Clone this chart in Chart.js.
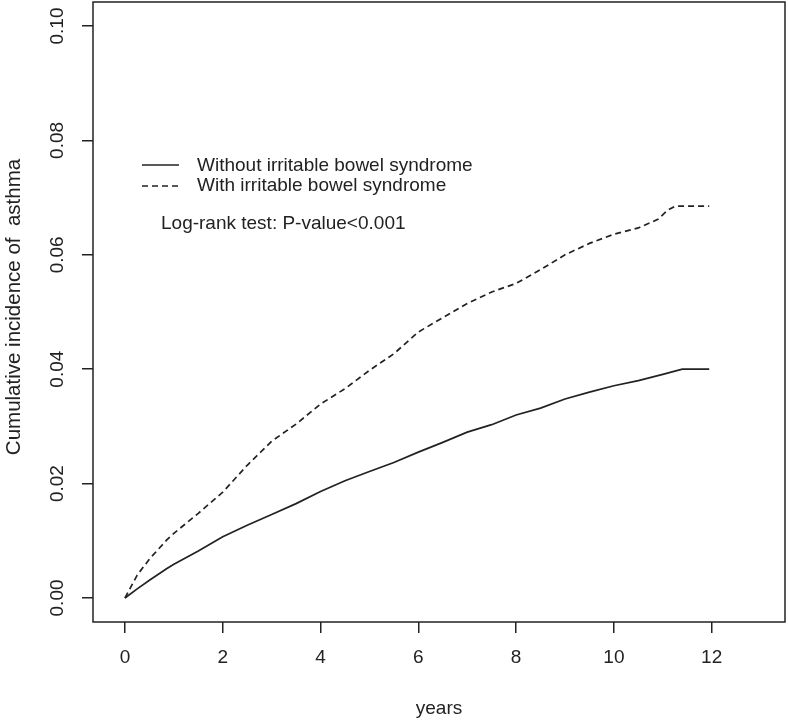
<!DOCTYPE html>
<html>
<head>
<meta charset="utf-8">
<script src="https://cdn.jsdelivr.net/npm/chart.js@4"></script>
<style>
  body { margin: 0; background: #fff; }
  canvas { display: block; }
</style>
</head>
<body>
<canvas id="kmChart" width="788" height="720"></canvas>
<script>
// Cumulative incidence
const timesWithout = [0, 0.25, 0.5, 0.85, 1, 1.5, 2, 2.5, 3, 3.5, 4, 4.5, 5, 5.5, 6, 6.5, 7, 7.5, 8, 8.5, 9, 9.5, 10, 10.5, 11, 11.4, 11.95];
const incidenceWithout = [0, 0.0016, 0.0031, 0.0051, 0.0059, 0.0082, 0.0107, 0.0127, 0.0146, 0.0165, 0.0186, 0.0205, 0.0221, 0.0237, 0.0255, 0.0272, 0.0290, 0.0303, 0.0320, 0.0332, 0.0348, 0.0360, 0.0371, 0.0380, 0.0391, 0.0400, 0.0400];

const timesWith = [0, 0.25, 0.5, 0.85, 1, 1.5, 2, 2.5, 3, 3.5, 4, 4.5, 5, 5.5, 6, 6.5, 7, 7.5, 8, 8.5, 9, 9.5, 10, 10.5, 10.9, 11.1, 11.25, 11.95];
const incidenceWith = [0, 0.0040, 0.0068, 0.0101, 0.0113, 0.0148, 0.0185, 0.0232, 0.0274, 0.0304, 0.0339, 0.0366, 0.0398, 0.0427, 0.0465, 0.0490, 0.0515, 0.0535, 0.0550, 0.0574, 0.0600, 0.0620, 0.0636, 0.0647, 0.0662, 0.0678, 0.0685, 0.0685];

const seriesNames = ['Without irritable bowel syndrome', 'With irritable bowel syndrome'];
const xTicks = [0, 2, 4, 6, 8, 10, 12];
const yTicks = [0, 0.02, 0.04, 0.06, 0.08, 0.10];
const yTickLabels = ['0.00', '0.02', '0.04', '0.06', '0.08', '0.10'];
const yTitle = 'Cumulative incidence of  asthma';
const testNote = 'Log-rank test: P-value<0.001';

const ink = '#222';
const font = '"Liberation Sans", Arial, sans-serif';

function toPoints(xs, ys) {
    return xs.map((x, i) => ({ x: x, y: ys[i] }));
}

// box, rotated y labels (R style), legend and test note
const rStyle = {
    id: 'rStyle',
    afterDraw(chart) {
        const ctx = chart.ctx;
        const area = chart.chartArea;
        const yScale = chart.scales.y;
        ctx.save();
        ctx.strokeStyle = ink;
        ctx.lineWidth = 1.5;
        ctx.strokeRect(area.left, area.top, area.right - area.left, area.bottom - area.top);

        ctx.fillStyle = ink;
        ctx.font = '19px ' + font;
        ctx.textAlign = 'center';
        ctx.textBaseline = 'middle';
        yTicks.forEach((v, i) => {
            ctx.save();
            ctx.translate(58, yScale.getPixelForValue(v));
            ctx.rotate(-Math.PI / 2);
            ctx.fillText(yTickLabels[i], 0, 0);
            ctx.restore();
        });

        ctx.save();
        ctx.font = '20.5px ' + font;
        ctx.translate(14, 307);
        ctx.rotate(-Math.PI / 2);
        ctx.fillText(yTitle, 0, 0);
        ctx.restore();

        // legend
        ctx.lineWidth = 1.6;
        ctx.beginPath();
        ctx.moveTo(142, 165);
        ctx.lineTo(179, 165);
        ctx.stroke();
        ctx.setLineDash([6, 4]);
        ctx.beginPath();
        ctx.moveTo(142, 186);
        ctx.lineTo(179, 186);
        ctx.stroke();
        ctx.setLineDash([]);
        ctx.textAlign = 'left';
        ctx.textBaseline = 'alphabetic';
        ctx.fillText(seriesNames[0], 197, 171);
        ctx.fillText(seriesNames[1], 197, 191);
        ctx.fillText(testNote, 161, 229);
        ctx.restore();
    }
};

new Chart(document.getElementById('kmChart'), {
    type: 'line',
    data: {
        datasets: [{
            label: seriesNames[0],
            data: toPoints(timesWithout, incidenceWithout),
            borderColor: ink,
            borderWidth: 1.7,
            pointRadius: 0,
            tension: 0
        }, {
            label: seriesNames[1],
            data: toPoints(timesWith, incidenceWith),
            borderColor: ink,
            borderWidth: 1.7,
            borderDash: [6, 4],
            pointRadius: 0,
            tension: 0
        }]
    },
    options: {
        responsive: false,
        animation: false,
        layout: { padding: { left: 0, right: 3, top: 2, bottom: 0 } },
        plugins: {
            legend: { display: false },
            tooltip: { enabled: false }
        },
        scales: {
            x: {
                type: 'linear',
                min: -0.654,
                max: 13.5,
                afterBuildTicks: s => { s.ticks = xTicks.map(v => ({ value: v })); },
                afterFit: s => { s.height = 98; },
                grid: { drawOnChartArea: false, drawTicks: true, tickLength: 11, color: ink, lineWidth: 1.5 },
                border: { display: false },
                ticks: { color: ink, font: { family: font, size: 19 }, padding: 13, maxRotation: 0 },
                title: { display: true, text: 'years', color: ink, font: { family: font, size: 19 }, padding: { top: 1, bottom: 0 } }
            },
            y: {
                type: 'linear',
                min: -0.0042,
                max: 0.1042,
                afterBuildTicks: s => { s.ticks = yTicks.map(v => ({ value: v })); },
                afterFit: s => { s.width = 93; },
                grid: { drawOnChartArea: false, drawTicks: true, tickLength: 11, color: ink, lineWidth: 1.5 },
                border: { display: false },
                ticks: { display: false }
            }
        }
    },
    plugins: [rStyle]
});
</script>
</body>
</html>
